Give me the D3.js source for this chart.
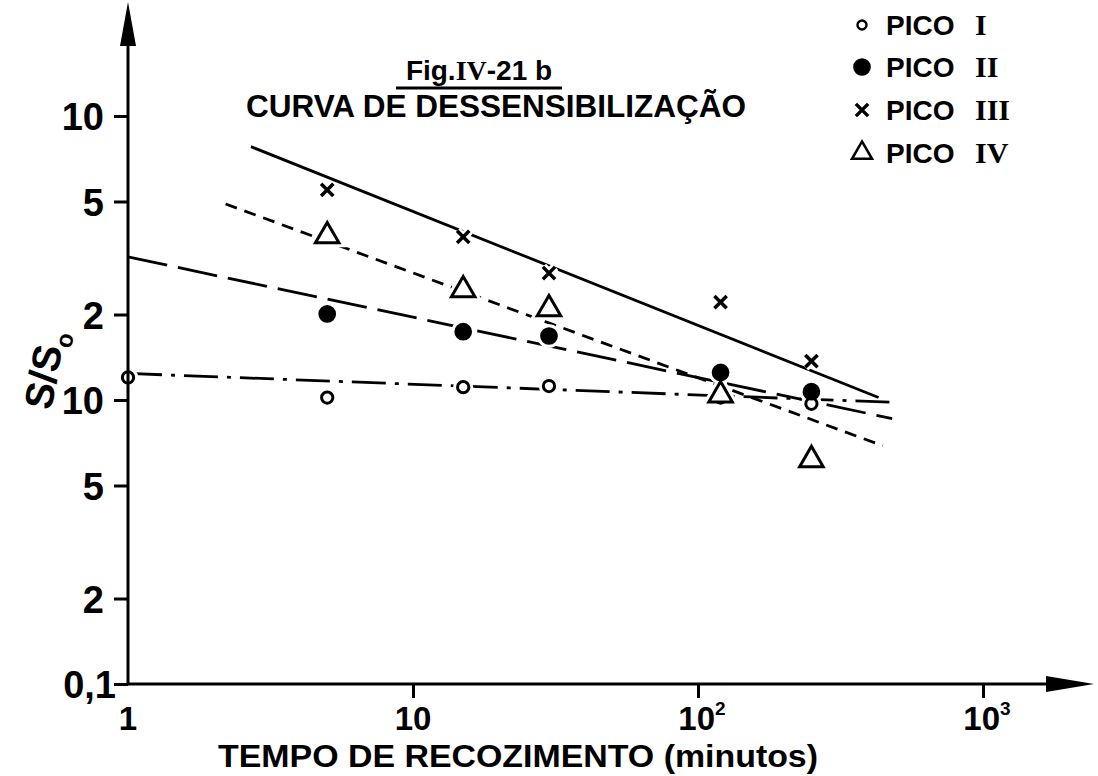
<!DOCTYPE html>
<html>
<head>
<meta charset="utf-8">
<script src="https://cdn.jsdelivr.net/npm/d3@7"></script>
<style>
  body { margin: 0; background: #fff; }
  svg { display: block; font-family: "Liberation Sans", Arial, sans-serif; font-weight: bold; }
</style>
</head>
<body>
<svg id="chart" width="1098" height="776"></svg>
<script>
// ---- data ----
const times = [5, 15, 30, 120, 250];          // minutos
const picoITimes = [1, 5, 15, 30, 120, 250];
const picoI   = [1.2, 1.02, 1.11, 1.12, 1.02, 0.97];
const picoII  = [2.01, 1.74, 1.68, 1.25, 1.07];
const picoIII = [5.49, 3.75, 2.80, 2.21, 1.37];
const picoIV  = [3.78, 2.44, 2.09, 1.04, 0.615];

// hand drawn fitted lines, [t, S/So] end points
const fitI   = [[1, 1.24], [500, 0.98]];
const fitII  = [[1, 3.19], [480, 0.86]];
const fitIII = [[2.7, 7.8], [430, 1.02]];
const fitIV  = [[2.2, 4.9], [445, 0.69]];

const yTicks = [0.1, 0.2, 0.5, 1, 2, 5, 10];
const yTickLabels = ["0,1", "2", "5", "10", "2", "5", "10"];
const xTicks = [10, 100, 1000];
const xTickLabels = [[1, "1", ""], [10, "10", ""], [100, "10", "2"], [1000, "10", "3"]];

const svg = d3.select("#chart");

const x = d3.scaleLog().domain([1, 1000]).range([128, 983]);
const y = d3.scaleLog().domain([0.1, 10]).range([684, 116]);

const series = [
    { name: "I",   t: picoITimes, v: picoI,   fit: fitI,   marker: "open",   dash: "34,9,4,9" },
    { name: "II",  t: times,      v: picoII,  fit: fitII,  marker: "filled", dash: "40,11" },
    { name: "III", t: times,      v: picoIII, fit: fitIII, marker: "x",      dash: null },
    { name: "IV",  t: times,      v: picoIV,  fit: fitIV,  marker: "tri",    dash: "12,8" }
];

const symbolPath = {
    open:   d3.symbol(d3.symbolCircle, 100)(),
    filled: d3.symbol(d3.symbolCircle, 170)(),
    x:      d3.symbol(d3.symbolX, 100)(),
    tri:    d3.symbol(d3.symbolTriangle, 240)()
};

function styleMarker(sel, m) {
    sel.attr("d", symbolPath[m])
        .attr("fill", m === "filled" ? "#000" : (m === "x" ? "none" : "#fff"))
        .attr("stroke", "#000")
        .attr("stroke-width", m === "x" ? 3.5 : 3);
}

// Fitted lines
const line = d3.line().x(d => x(d[0])).y(d => y(d[1]));
svg.append("g").selectAll("path")
    .data(series)
    .enter()
    .append("path")
    .attr("d", d => line(d.fit))
    .attr("fill", "none")
    .attr("stroke", "#000")
    .attr("stroke-width", 2.8)
    .attr("stroke-dasharray", d => d.dash);

// Points: white halo first so the lines break around the marks
const pts = series.flatMap(s => s.t.map((t, i) => ({ t: t, v: s.v[i], marker: s.marker })));

svg.append("g").selectAll("path")
    .data(pts)
    .enter()
    .append("path")
    .attr("transform", d => `translate(${x(d.t)},${y(d.v)})`)
    .attr("d", d => symbolPath[d.marker])
    .attr("fill", "#fff")
    .attr("stroke", "#fff")
    .attr("stroke-width", 9);

svg.append("g").selectAll("path")
    .data(pts)
    .enter()
    .append("path")
    .attr("transform", d => `translate(${x(d.t)},${y(d.v)})`)
    .each(function(d) { styleMarker(d3.select(this), d.marker); });

// Y Axis
const yAxis = svg.append("g")
    .attr("transform", "translate(128,0)")
    .call(d3.axisLeft(y).tickValues(yTicks).tickSize(14).tickFormat((d, i) => yTickLabels[i]));
yAxis.select(".domain").remove();
yAxis.selectAll("line").attr("stroke", "#000").attr("stroke-width", 3);
yAxis.selectAll("text")
    .attr("x", -24)
    .attr("dy", "0.36em")
    .attr("fill", "#000")
    .style("font-size", "38px")
    .style("font-family", "'Liberation Sans', Arial, sans-serif")
    .style("font-weight", "bold");
yAxis.selectAll(".tick").filter(d => d === 0.1).select("text").attr("x", -12);

// X Axis
const xAxis = svg.append("g")
    .attr("transform", "translate(0,684)")
    .call(d3.axisBottom(x).tickValues(xTicks).tickSize(14).tickFormat(""));
xAxis.select(".domain").remove();
xAxis.selectAll("line").attr("stroke", "#000").attr("stroke-width", 3);

const xl = svg.append("g").selectAll("text")
    .data(xTickLabels)
    .enter()
    .append("text")
    .attr("x", d => x(d[0]) + (d[2] ? 4 : 0))
    .attr("y", 730)
    .attr("text-anchor", "middle")
    .style("font-size", "33px");
xl.append("tspan").text(d => d[1]);
xl.append("tspan")
    .attr("dy", -15)
    .style("font-size", "19px")
    .text(d => d[2]);

// axis lines with arrows
svg.append("line").attr("x1", 128).attr("y1", 684).attr("x2", 128).attr("y2", 30)
    .attr("stroke", "#000").attr("stroke-width", 3);
svg.append("line").attr("x1", 128).attr("y1", 684).attr("x2", 1060).attr("y2", 684)
    .attr("stroke", "#000").attr("stroke-width", 3);
svg.append("path").attr("d", "M128,2 L120,46 L136,46 Z").attr("fill", "#000");
svg.append("path").attr("d", "M1094,684 L1046,676 L1046,692 Z").attr("fill", "#000");

// X Axis Label
svg.append("text")
    .attr("x", 218)
    .attr("y", 767)
    .attr("textLength", 600)
    .attr("lengthAdjust", "spacingAndGlyphs")
    .style("font-size", "32px")
    .text("TEMPO DE RECOZIMENTO (minutos)");

// Y Axis Label
const yl = svg.append("text")
    .attr("transform", "translate(58,372) rotate(-80)")
    .attr("text-anchor", "middle")
    .style("font-size", "40px");
yl.append("tspan").text("S/S");
yl.append("tspan").attr("dy", 9).style("font-size", "24px").text("o");

// Title
const title = svg.append("text")
    .attr("x", 479)
    .attr("y", 80)
    .attr("text-anchor", "middle")
    .style("font-size", "28px");
title.append("tspan").text("Fig.");
title.append("tspan").style("font-family", "'Liberation Serif', serif").text("IV");
title.append("tspan").text("-21 b");
svg.append("line").attr("x1", 396).attr("x2", 562).attr("y1", 88).attr("y2", 88)
    .attr("stroke", "#000").attr("stroke-width", 3);

svg.append("text")
    .attr("x", 246)
    .attr("y", 117)
    .attr("textLength", 500)
    .attr("lengthAdjust", "spacingAndGlyphs")
    .style("font-size", "31px")
    .text("CURVA DE DESSENSIBILIZAÇÃO");

// Legend
const legendRows = [25, 67, 110, 153];
const legend = svg.append("g").selectAll("g")
    .data(series)
    .enter()
    .append("g")
    .attr("transform", (d, i) => `translate(862,${legendRows[i]})`);
legend.append("path").each(function(d) { styleMarker(d3.select(this), d.marker); })
    .attr("transform", d => d.marker === "open" ? "scale(0.8)" : (d.marker === "tri" ? "scale(0.85)" : null));
legend.append("text")
    .attr("x", 24)
    .attr("y", 10)
    .style("font-size", "28px")
    .text("PICO");
legend.append("text")
    .attr("x", 113)
    .attr("y", 10)
    .style("font-size", "30px")
    .style("font-family", "'Liberation Serif', serif")
    .text(d => d.name);
</script>
</body>
</html>
